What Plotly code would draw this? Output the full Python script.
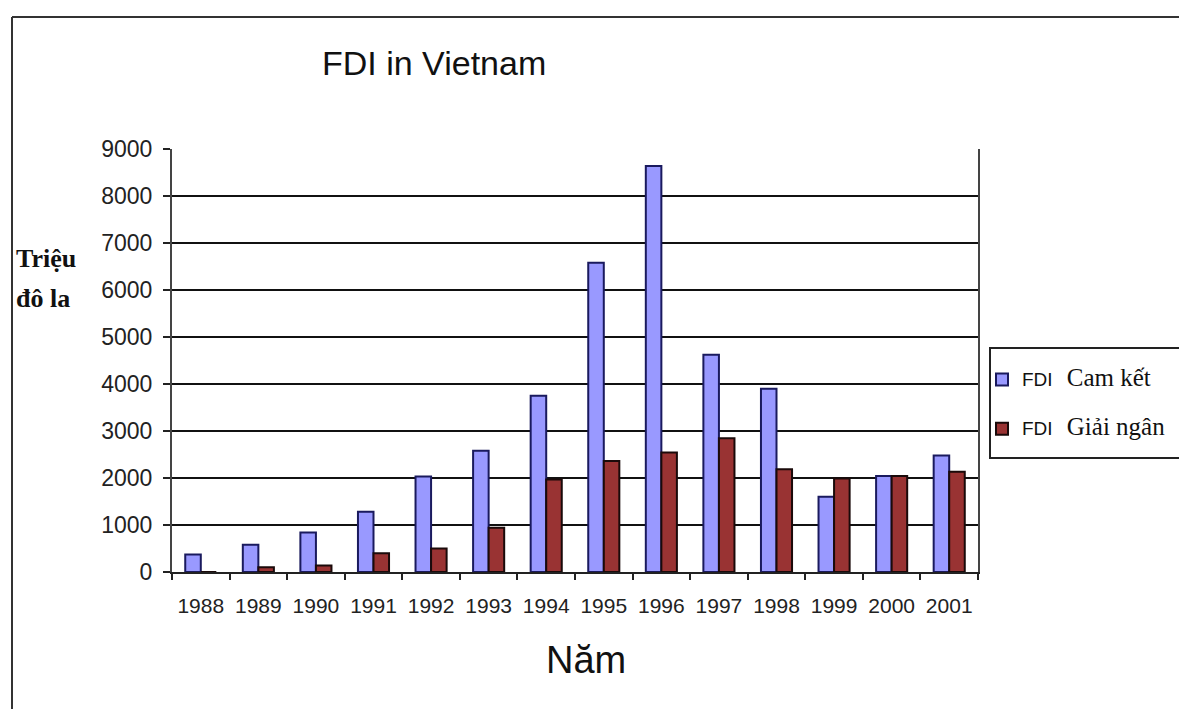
import plotly.graph_objects as go

# FDI vào Việt Nam, triệu đô la
years = ["1988", "1989", "1990", "1991", "1992", "1993", "1994",
         "1995", "1996", "1997", "1998", "1999", "2000", "2001"]
cam_ket = [370, 580, 840, 1280, 2030, 2580, 3750, 6580, 8640, 4620, 3900, 1600, 2040, 2480]
giai_ngan = [0, 100, 140, 400, 500, 940, 1970, 2360, 2540, 2845, 2185, 1990, 2040, 2135]
y_ticks = list(range(0, 9001, 1000))

W, H = 1179, 709
L, R, T, B = 172, 201, 149, 137
PW, PH = W - L - R, H - T - B


def px(x):
    return (x - L) / PW


def py(y):
    return (H - B - y) / PH


SANS = "Liberation Sans, Arial, sans-serif"
SERIF = "Liberation Serif, Times New Roman, serif"


def legend_name(label):
    return ('<span style="font-family:Liberation Sans;font-size:19px">FDI</span>'
            '\u00a0\u00a0 '
            f'<span style="font-family:Liberation Serif;font-size:25px">{label}</span>')


fig = go.Figure()
fig.add_trace(go.Bar(
    x=years, y=cam_ket, legendgroup="a",
    name=legend_name("Cam kết"),
    marker=dict(color="#9999FF", line=dict(color="#1a1a5e", width=2)),
))
fig.add_trace(go.Bar(
    x=years, y=giai_ngan, legendgroup="b",
    name=legend_name("Giải ngân"),
    marker=dict(color="#993333", line=dict(color="#1a0a0a", width=2)),
))

fig.update_layout(
    width=W, height=H,
    margin=dict(l=L, r=R, t=T, b=B, autoexpand=False),
    paper_bgcolor="white", plot_bgcolor="white",
    barmode="group", bargap=0.46, bargroupgap=0,
    font=dict(family=SANS, color="#222"),
    showlegend=True,
    legend=dict(
        x=px(982), y=py(362), xanchor="left", yanchor="top",
        bgcolor="rgba(0,0,0,0)", borderwidth=0,
        font=dict(family=SANS, size=17, color="#111"),
        tracegroupgap=24, traceorder="grouped",
        itemwidth=30,
    ),
    xaxis=dict(
        type="category", showgrid=False, showline=True,
        linecolor="#222", linewidth=2,
        ticks="outside", tickson="boundaries", ticklen=6, tickwidth=2, tickcolor="#222",
        tickfont=dict(size=21, color="#222"),
        ticklabelstandoff=14,
    ),
    yaxis=dict(
        range=[0, 9000], tickvals=y_ticks,
        showgrid=True, gridcolor="#111", gridwidth=2,
        showline=True, linecolor="#444", linewidth=2, mirror=True,
        ticks="outside", ticklen=7, tickwidth=2, tickcolor="#222",
        tickfont=dict(size=23, color="#222"),
        ticklabelstandoff=6,
        zeroline=False,
    ),
)

# Khung ngoài của biểu đồ
fig.add_shape(type="line", xref="paper", yref="paper",
              x0=px(12), x1=px(W + 5), y0=py(17), y1=py(17),
              line=dict(color="#333", width=2))
fig.add_shape(type="line", xref="paper", yref="paper",
              x0=px(12), x1=px(12), y0=py(17), y1=py(H + 5),
              line=dict(color="#333", width=2))
# Khung chú giải
fig.add_shape(type="rect", xref="paper", yref="paper", layer="above",
              x0=px(990), x1=px(W + 10), y0=py(348), y1=py(458),
              fillcolor="white", line=dict(color="#222", width=2))

fig.add_annotation(text="FDI in Vietnam", xref="paper", yref="paper",
                   x=px(434), y=py(63), xanchor="center", yanchor="middle",
                   showarrow=False,
                   font=dict(family=SANS, size=34, color="#111"))
fig.add_annotation(text="Năm", xref="paper", yref="paper",
                   x=px(586), y=py(660), xanchor="center", yanchor="middle",
                   showarrow=False,
                   font=dict(family=SANS, size=38, color="#111"))
fig.add_annotation(text="<b>Triệu</b>", xref="paper", yref="paper",
                   x=px(14), y=py(258), xanchor="left", yanchor="middle",
                   showarrow=False,
                   font=dict(family=SERIF, size=26, color="#111"))
fig.add_annotation(text="<b>đô la</b>", xref="paper", yref="paper",
                   x=px(14), y=py(298), xanchor="left", yanchor="middle",
                   showarrow=False,
                   font=dict(family=SERIF, size=26, color="#111"))

fig.write_html("out.html")
